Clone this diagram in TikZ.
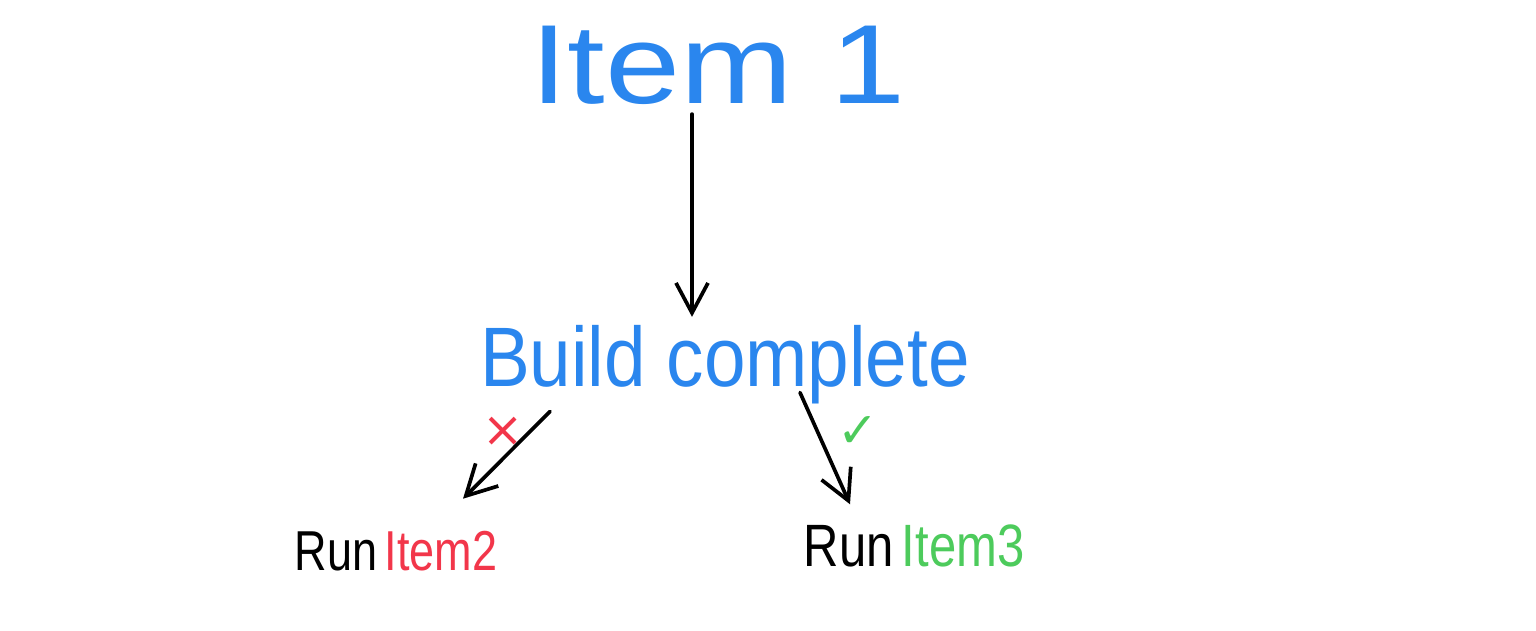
\documentclass[tikz,border=0pt]{standalone}
\usepackage{fontspec}
\setmainfont{Liberation Sans}
\newfontfamily\symfont{DejaVu Sans}
\usetikzlibrary{arrows.meta,calc}
\definecolor{inkblue}{HTML}{2A86EE}
\definecolor{inkred}{HTML}{F2364A}
\definecolor{inkgreen}{HTML}{4DCB5C}
\begin{document}
\begin{tikzpicture}[x=0.01cm,y=-0.01cm,
  lbl/.style={inner sep=0pt, outer sep=0pt, anchor=base},
  conn/.style={draw=black, line width=1.05pt, line cap=round, line join=round,
    -{Straight Barb[length=0.3cm,width=0.32cm,line width=1.05pt]}}]
\useasboundingbox (0,0) rectangle (1536,630);
\node[lbl, text=inkblue] (item1) at (718,103)
  {\fontsize{32}{38}\selectfont\scalebox{1.2}[1]{Item 1}};
\node[lbl, text=inkblue] (build) at (725,386)
  {\fontsize{24}{29}\selectfont\scalebox{0.885}[1]{Build complete}};
\node[lbl] (run2) at (396,570)
  {\fontsize{16}{19}\selectfont\scalebox{0.8}[1]{Run\,\textcolor{inkred}{Item2}}};
\node[lbl] (run3) at (914,566)
  {\fontsize{17}{20}\selectfont\scalebox{0.82}[1]{Run\,\textcolor{inkgreen}{Item3}}};
\node[inner sep=0pt, text=inkred] (no) at (503,432) {\symfont\fontsize{14}{16}\selectfont ×};
\node[inner sep=0pt, text=inkgreen] (yes) at (858,432) {\symfont\fontsize{14}{16}\selectfont ✓};
\draw[conn] ($(item1.south)+(-26,10)$) -- ($(build.north)+(-33,-8)$);
\draw[conn] ($(build.south)+(-175,8)$) -- ($(run2.north)+(67,-32)$);
\draw[conn] ($(build.south)+(75,-11)$) -- ($(run3.north)+(-64,-20)$);
\end{tikzpicture}
\end{document}
